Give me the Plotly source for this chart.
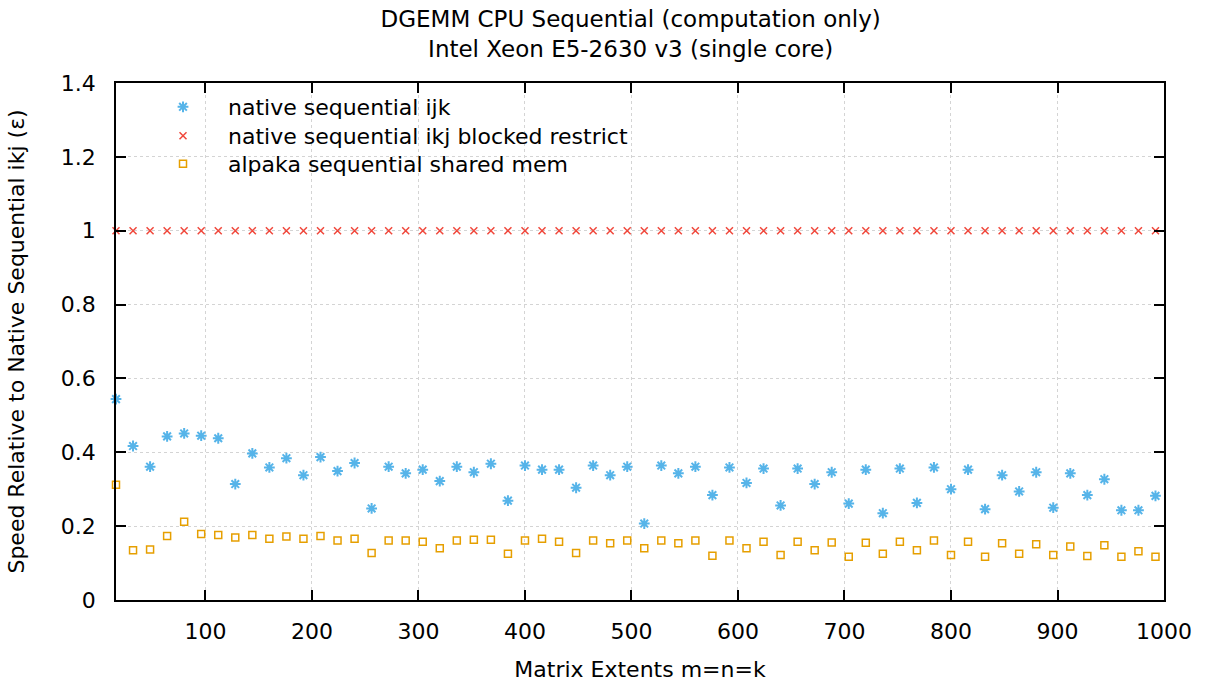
import plotly.graph_objects as go

# Matrix extents m=n=k
extents = list(range(16, 1008, 16))

ijk = [0.544, 0.417, 0.361, 0.443, 0.451, 0.445, 0.438, 0.314, 0.397, 0.359,
       0.384, 0.338, 0.387, 0.349, 0.371, 0.248, 0.361, 0.343, 0.353, 0.322,
       0.361, 0.346, 0.369, 0.269, 0.364, 0.353, 0.353, 0.304, 0.364, 0.338,
       0.361, 0.207, 0.364, 0.343, 0.361, 0.284, 0.359, 0.317, 0.356, 0.256,
       0.356, 0.314, 0.346, 0.261, 0.353, 0.235, 0.356, 0.263, 0.359, 0.300,
       0.353, 0.246, 0.338, 0.294, 0.346, 0.250, 0.343, 0.284, 0.327, 0.243,
       0.243, 0.282]

ikj_blocked = [1.0] * len(extents)

alpaka_shared = [0.312, 0.135, 0.137, 0.173, 0.212, 0.179, 0.176, 0.169, 0.176, 0.166,
                 0.172, 0.166, 0.173, 0.161, 0.166, 0.127, 0.161, 0.161, 0.158, 0.140,
                 0.161, 0.163, 0.163, 0.125, 0.161, 0.166, 0.158, 0.127, 0.161, 0.154,
                 0.161, 0.140, 0.161, 0.154, 0.161, 0.120, 0.161, 0.140, 0.158, 0.122,
                 0.158, 0.135, 0.156, 0.117, 0.155, 0.125, 0.158, 0.135, 0.161, 0.122,
                 0.158, 0.117, 0.154, 0.125, 0.151, 0.122, 0.145, 0.119, 0.148, 0.117,
                 0.132, 0.117]

names = ["native sequential ijk", "native sequential ikj blocked restrict",
         "alpaka sequential shared mem"]

FONT = "DejaVu Sans"
FS = 22

fig = go.Figure()
fig.add_trace(go.Scatter(
    x=extents, y=ijk, mode="markers", name=names[0], cliponaxis=False,
    legend="legend",
    marker=dict(symbol="asterisk-open", size=9, color="#56B4E9",
                line=dict(color="#56B4E9", width=2))))
fig.add_trace(go.Scatter(
    x=extents, y=ikj_blocked, mode="markers", name=names[1], cliponaxis=False,
    legend="legend2",
    marker=dict(symbol="x-thin-open", size=7, color="#F0483C",
                line=dict(color="#F0483C", width=1.5))))
fig.add_trace(go.Scatter(
    x=extents, y=alpaka_shared, mode="markers", name=names[2], cliponaxis=False,
    legend="legend3",
    marker=dict(symbol="square-open", size=7, color="#E69F00",
                line=dict(color="#E69F00", width=1.5))))

axis_common = dict(
    showline=True, linecolor="black", linewidth=1.5, mirror="ticks",
    ticks="inside", ticklen=10, tickwidth=1.5, tickcolor="black",
    showgrid=True, gridcolor="#d4d4d4", griddash="dot", gridwidth=1,
    zeroline=False, automargin=False,
    tickfont=dict(family=FONT, size=FS, color="black"),
)

fig.update_xaxes(range=[16, 1000], tick0=0, dtick=100, ticklabelstandoff=11,
                 title=dict(text="Matrix Extents m=n=k",
                            font=dict(family=FONT, size=FS, color="black"),
                            standoff=18),
                 **axis_common)
fig.update_yaxes(range=[0, 1.4], tick0=0, dtick=0.2, ticklabelstandoff=14,
                 title=dict(text="Speed Relative to Native Sequential ikj (ε)",
                            font=dict(family=FONT, size=FS, color="black"),
                            standoff=30),
                 **axis_common)

PLOT_TOP, PLOT_BOTTOM = 83, 600
rows_px = [107, 136, 164]
legend_y = [(PLOT_BOTTOM - r) / (PLOT_BOTTOM - PLOT_TOP) for r in rows_px]

def leg(y):
    return dict(x=0.021, y=y, xanchor="left", yanchor="middle",
                bgcolor="rgba(0,0,0,0)", itemwidth=80,
                font=dict(family=FONT, size=FS, color="black"))

fig.update_layout(
    width=1207, height=684,
    margin=dict(l=116, r=43, t=PLOT_TOP, b=684 - PLOT_BOTTOM),
    paper_bgcolor="white", plot_bgcolor="white",
    font=dict(family=FONT, size=FS, color="black"),
    title=dict(text="DGEMM CPU Sequential (computation only)<br>Intel Xeon E5-2630 v3 (single core)",
               x=0.5225, xanchor="center", y=0.961, yanchor="top",
               font=dict(family=FONT, size=23, color="black")),
    legend=leg(legend_y[0]),
    legend2=leg(legend_y[1]),
    legend3=leg(legend_y[2]),
    showlegend=True,
)

fig.write_html("out.html")
